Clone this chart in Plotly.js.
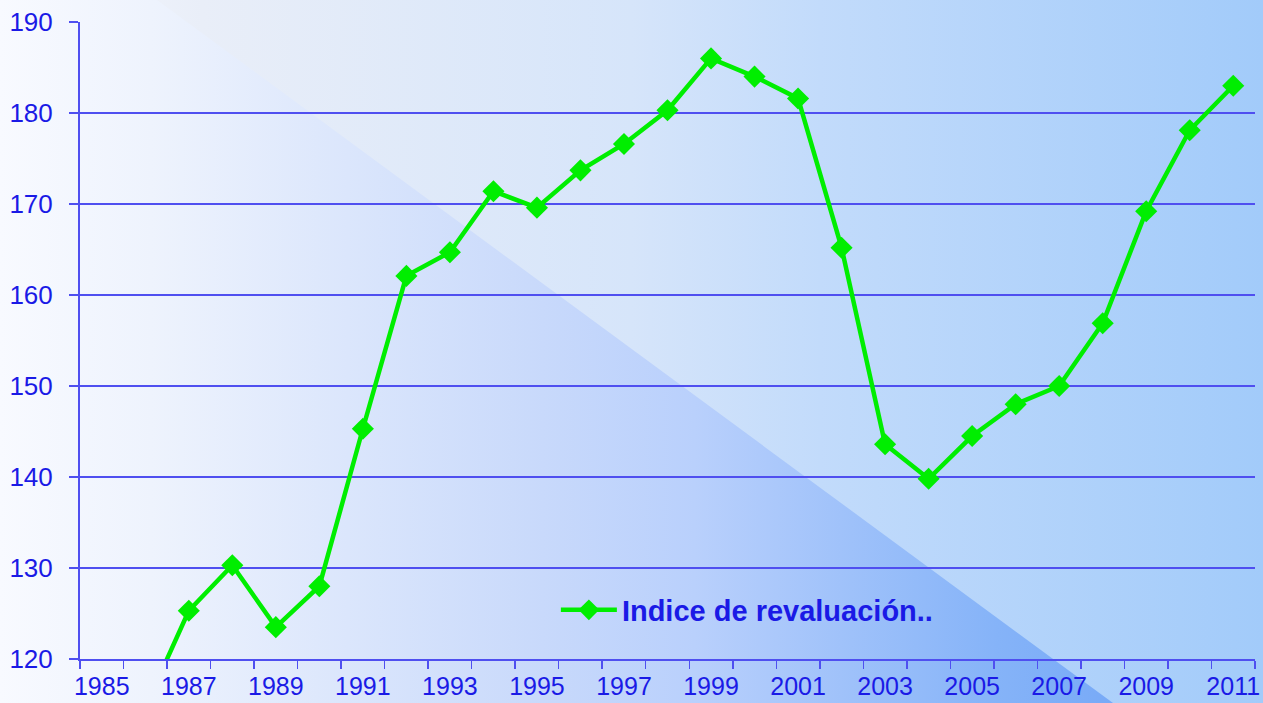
<!DOCTYPE html>
<html>
<head>
<meta charset="utf-8">
<script src="https://cdn.plot.ly/plotly-3.0.1.min.js"></script>
<style>
  html, body { margin: 0; padding: 0; width: 1263px; height: 703px; overflow: hidden; }
  #wrap { position: relative; width: 1263px; height: 703px;
    background: linear-gradient(to right, #f8faff 0%, #e9eef8 16%, #d6e5fa 50%, #c2dbfb 65%, #a2cbfa 100%); }
  #tri { position: absolute; left: 0; top: 0; width: 1263px; height: 703px;
    clip-path: polygon(0 0, 157px 0, 1113px 703px, 0 703px);
    background: linear-gradient(to right, #f8faff 0%, #eef3fd 12%, #c8d9fb 43%, #b9d0fc 55%, #85b3f8 79%, #78aaf7 88%); }
  #chart { position: absolute; left: 0; top: 0; width: 1263px; height: 703px; }
</style>
</head>
<body>
<div id="wrap"><div id="tri"></div><div id="chart"></div></div>
<script>
const years = [1985,1986,1987,1988,1989,1990,1991,1992,1993,1994,1995,1996,1997,1998,1999,2000,2001,2002,2003,2004,2005,2006,2007,2008,2009,2010,2011];
const indice = [100,114.7,125.3,130.3,123.5,128.0,145.3,162.1,164.7,171.4,169.6,173.7,176.6,180.3,186.0,184.0,181.6,165.2,143.6,139.8,144.5,148.0,150.0,156.9,169.2,178.1,183.0];
const tickYears = [1985,1987,1989,1991,1993,1995,1997,1999,2001,2003,2005,2007,2009,2011];
const tickLabels = tickYears.map(String);
const seriesName = 'Indice de revaluación..';

const axisColor = '#4f4ff0';
const textColor = '#1a1ae6';

const trace = {
  x: years, y: indice, type: 'scatter', mode: 'lines+markers', name: seriesName,
  line: {color: '#00ee00', width: 4.5},
  marker: {symbol: 'diamond', size: 17, color: '#00ee00'},
  cliponaxis: true
};

const layout = {
  width: 1263, height: 703,
  margin: {l: 80, r: 8, t: 22, b: 44},
  paper_bgcolor: 'rgba(0,0,0,0)', plot_bgcolor: 'rgba(0,0,0,0)',
  font: {family: 'Liberation Sans, Arial, sans-serif', color: textColor, size: 26},
  showlegend: true,
  legend: {x: 0.405, y: 0.077, xanchor: 'left', yanchor: 'middle', bgcolor: 'rgba(0,0,0,0)',
    font: {size: 29, weight: 'bold', color: textColor, family: 'Liberation Sans, Arial, sans-serif'}, itemwidth: 56},
  xaxis: {
    range: [1984.5, 2011.5], tickmode: 'array', tickvals: tickYears, ticktext: tickLabels,
    ticks: 'outside', ticklen: 4, tickcolor: 'rgba(0,0,0,0)', ticklabelstandoff: 0,
    showgrid: false, zeroline: false, showline: true, linecolor: axisColor, linewidth: 2,
    tickfont: {size: 25, color: textColor},
    minor: {tick0: 1984.5, dtick: 1, ticks: 'outside', ticklen: 8, tickcolor: axisColor, tickwidth: 1.5, showgrid: false},
    fixedrange: true
  },
  yaxis: {
    range: [120, 190], dtick: 10, ticks: 'outside', ticklen: 9, tickcolor: axisColor, tickwidth: 2,
    showgrid: true, gridcolor: axisColor, gridwidth: 2, zeroline: false,
    showline: true, linecolor: axisColor, linewidth: 2, ticklabelstandoff: 11,
    tickfont: {size: 26, color: textColor}, fixedrange: true
  }
};

Plotly.newPlot('chart', [trace], layout, {displayModeBar: false, staticPlot: true});
</script>
</body>
</html>
